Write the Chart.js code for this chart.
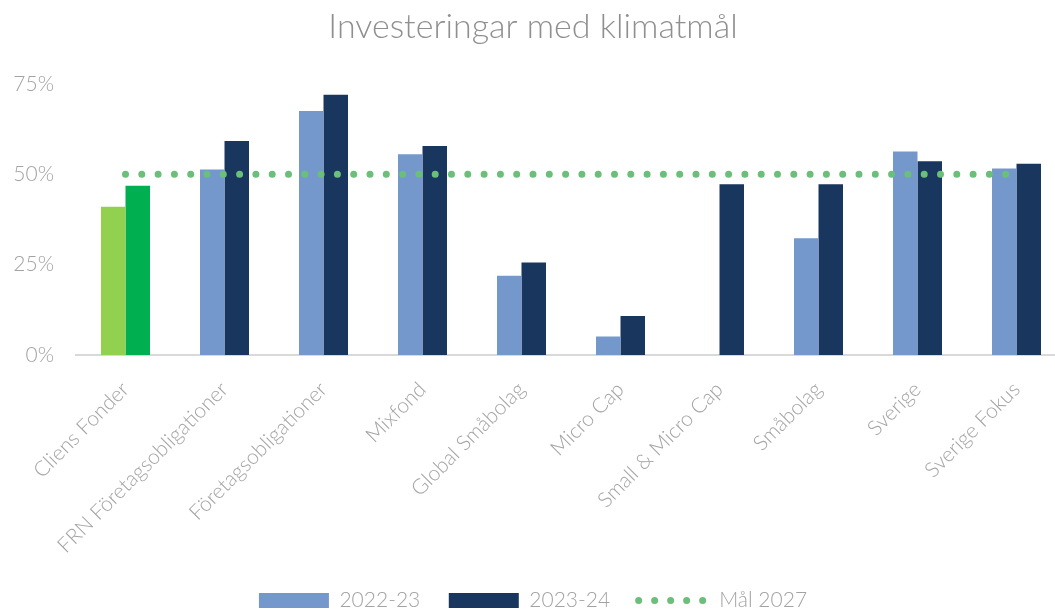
<!DOCTYPE html>
<html lang="sv">
<head>
<meta charset="utf-8">
<title>Investeringar med klimatmål</title>
<script src="https://cdn.jsdelivr.net/npm/chart.js@4"></script>
<style>
    html, body { margin: 0; padding: 0; background: #ffffff; overflow: hidden; }
    /* Lite bredare än fönstret, som i originalet där sista gruppen skärs av */
    #wrap { width: 1066px; height: 612px; }
</style>
</head>
<body>
<div id="wrap"><canvas id="chartKlimat"></canvas></div>
<script>
// Kategorier (fonder)
const kategorier = ['Cliens Fonder', 'FRN Företagsobligationer', 'Företagsobligationer', 'Mixfond', 'Global Småbolag', 'Micro Cap', 'Small & Micro Cap', 'Småbolag', 'Sverige', 'Sverige Fokus'];

// Andel investeringar med klimatmål, procent
const varden2223 = [41, 51.3, 67.5, 55.5, 21.9, 5.1, null, 32.3, 56.3, 51.6];
const varden2324 = [46.8, 59.2, 72, 57.8, 25.6, 10.8, 47.2, 47.2, 53.6, 52.9];
const mal2027 = [50, 50, 50, 50, 50, 50, 50, 50, 50, 50];

// Y-axelns steg
const yTicks = [0, 25, 50, 75];

const typsnitt = 'Lato, "Open Sans", sans-serif';
const gra = '#a3a3a3';

// Första gruppen (Cliens Fonder) är grön, resten blå
const farg2223 = kategorier.map((k, i) => i === 0 ? '#92d050' : '#7498cc');
const farg2324 = kategorier.map((k, i) => i === 0 ? '#00b050' : '#18365e');
const gron = '#6bbf7b';

const ctxKlimat = document.getElementById('chartKlimat').getContext('2d');

const dataKlimat = {
    labels: kategorier,
    datasets: [
        {
            label: '2022-23',
            data: varden2223,
            backgroundColor: farg2223,
            barPercentage: 1,
            categoryPercentage: 0.495,
            order: 1,
        },
        {
            label: '2023-24',
            data: varden2324,
            backgroundColor: farg2324,
            barPercentage: 1,
            categoryPercentage: 0.495,
            order: 1,
        },
        {
            type: 'line',
            label: 'Mål 2027',
            data: mal2027,
            borderColor: gron,
            backgroundColor: gron,
            borderWidth: 7,
            borderDash: [0, 16.3],
            borderCapStyle: 'round',
            pointRadius: 0,
            fill: false,
            order: 0, // ritas ovanpå staplarna
        },
    ],
};

const configKlimat = {
    type: 'bar',
    data: dataKlimat,
    options: {
        responsive: true,
        maintainAspectRatio: false,
        animation: false,
        layout: { padding: { left: 0, right: 0, top: 0, bottom: -9 } },
        plugins: {
            tooltip: { enabled: false },
            title: {
                display: true,
                text: 'Investeringar med klimatmål',
                color: '#8f8f8f',
                font: { size: 34, weight: '300', family: typsnitt },
                padding: { top: 7, bottom: 36 },
            },
            legend: {
                position: 'bottom',
                labels: {
                    color: gra,
                    font: { size: 21, weight: '300', family: typsnitt },
                    usePointStyle: true,
                    pointStyleWidth: 70,
                    boxHeight: 15,
                    padding: 0,
                    sort: (a, b) => a.datasetIndex - b.datasetIndex,
                    generateLabels: (chart) => {
                        const items = Chart.defaults.plugins.legend.labels.generateLabels(chart);
                        items.forEach((it) => {
                            if (it.datasetIndex === 2) {
                                it.pointStyle = 'line';
                                it.strokeStyle = gron;
                                it.lineWidth = 7;
                                it.lineDash = [0, 16];
                                it.lineCap = 'round';
                            } else {
                                it.pointStyle = 'rect';
                                it.fillStyle = it.datasetIndex === 0 ? '#7498cc' : '#18365e';
                                it.lineWidth = 0;
                                it.text = it.text + '     '; // luft före nästa post
                            }
                        });
                        return items;
                    },
                },
            },
        },
        scales: {
            x: {
                grid: { display: false, drawTicks: false },
                border: { display: true, color: '#d9d9d9', width: 2 },
                ticks: {
                    color: gra,
                    minRotation: 45,
                    maxRotation: 45,
                    padding: 22,
                    font: { size: 21, weight: '300', family: typsnitt },
                },
                afterFit: (scale) => { scale.height = 235; },
            },
            y: {
                min: 0,
                max: 75,
                grid: { display: false, drawTicks: false },
                border: { display: false },
                afterBuildTicks: (scale) => { scale.ticks = yTicks.map((v) => ({ value: v })); },
                ticks: {
                    color: gra,
                    padding: 22,
                    font: { size: 21, weight: '300', family: typsnitt },
                    callback: (v) => v + '%',
                },
                afterFit: (scale) => { scale.width = 76; },
            },
        },
    },
};

new Chart(ctxKlimat, configKlimat);
</script>
</body>
</html>
